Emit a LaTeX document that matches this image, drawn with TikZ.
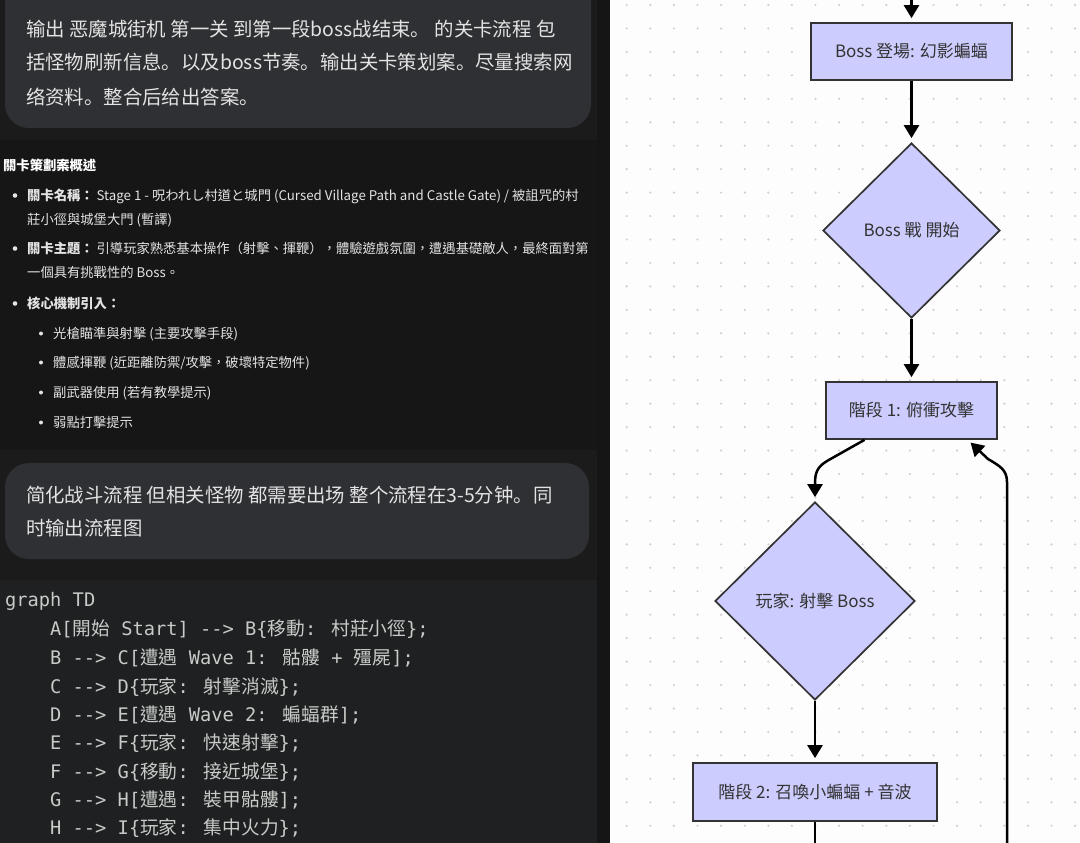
\documentclass[tikz,border=0pt]{standalone}
\usepackage{fontspec}
\usetikzlibrary{shapes.geometric,arrows.meta,calc}
\newfontfamily\scf{Noto Sans CJK SC}
\newfontfamily\tcf{Noto Sans CJK TC}
\newfontfamily\monof{DejaVu Sans Mono}
\definecolor{leftbg}{HTML}{1B1B1C}
\definecolor{midbg}{HTML}{161617}
\definecolor{stripbg}{HTML}{151515}
\definecolor{bubble}{HTML}{2F3033}
\definecolor{codebg}{HTML}{1F2021}
\definecolor{ltxt}{HTML}{E3E3E3}
\definecolor{ctxt}{HTML}{C8CAC8}
\definecolor{rightbg}{HTML}{FDFDFD}
\definecolor{dotc}{HTML}{CFCFCF}
\definecolor{nodefill}{HTML}{CCCCFF}
\definecolor{nodeline}{HTML}{333333}
\tikzset{
  bubtxt/.style={anchor=base west,inner sep=0,text=ltxt,font=\scf\fontsize{19.4}{22}\selectfont},
  mdtxt/.style={anchor=base west,inner sep=0,text=ltxt,font=\tcf\fontsize{13.3}{16}\selectfont},
  buldot/.style={fill=ltxt},
  codetxt/.style={anchor=base west,inner sep=0,text=ctxt,font=\monof\fontsize{18.7}{22}\selectfont},
  fbox/.style={rectangle,draw=nodeline,line width=1.7pt,fill=nodefill,inner sep=0,text=nodeline,font=\tcf\fontsize{17}{20}\selectfont},
  fdia/.style={diamond,draw=nodeline,line width=1.7pt,fill=nodefill,inner sep=0,text=nodeline,font=\tcf\fontsize{17}{20}\selectfont},
  flow/.style={draw=black,line width=2.5pt,-{Triangle[length=13pt,width=15pt]},shorten >=4pt},
  flowline/.style={draw=black,line width=2.5pt}
}
\newcommand\cjk[1]{{\tcf #1}}
\begin{document}
\begin{tikzpicture}[x=1pt,y=-1pt]
\useasboundingbox (0,0) rectangle (1080,843);
% ---------- left panel ----------
\fill[leftbg] (0,0) rectangle (610,843);
\fill[midbg] (0,140) rectangle (597,450);
\fill[stripbg] (597,0) rectangle (610,843);
\fill[bubble,rounded corners=24pt] (5,-40) rectangle (591,128);
\node[bubtxt] (q1a) at (26,37) {输出 恶魔城街机 第一关 到第一段boss战结束。 的关卡流程 包};
\node[bubtxt] (q1b) at (26,70) {括怪物刷新信息。以及boss节奏。输出关卡策划案。尽量搜索网};
\node[bubtxt] (q1c) at (26,104) {络资料。整合后给出答案。};
% outline section
\node[mdtxt,text=white] (h1) at (3,170) {\bfseries 關卡策劃案概述};
\fill[buldot] (15,195.5) circle[radius=2.3pt];
\node[mdtxt] (l1) at (27,200) {{\bfseries 關卡名稱：}\ Stage 1 - 呪われし村道と城門 (Cursed Village Path and Castle Gate) / 被詛咒的村};
\node[mdtxt] (l1b) at (27,224) {莊小徑與城堡大門 (暫譯)};
\fill[buldot] (15,248.5) circle[radius=2.3pt];
\node[mdtxt] (l2) at (27,253) {{\bfseries 關卡主題：}\ 引導玩家熟悉基本操作（射擊、揮鞭），體驗遊戲氛圍，遭遇基礎敵人，最終面對第};
\node[mdtxt] (l2b) at (27,277) {一個具有挑戰性的 Boss。};
\fill[buldot] (15,303.5) circle[radius=2.3pt];
\node[mdtxt] (l3) at (27,308) {\bfseries 核心機制引入：};
\fill[buldot] (41,333.5) circle[radius=2pt];
\node[mdtxt] (s1) at (53,338) {光槍瞄準與射擊 (主要攻擊手段)};
\fill[buldot] (41,362.5) circle[radius=2pt];
\node[mdtxt] (s2) at (53,367) {體感揮鞭 (近距離防禦/攻擊，破壞特定物件)};
\fill[buldot] (41,392.5) circle[radius=2pt];
\node[mdtxt] (s3) at (53,397) {副武器使用 (若有教學提示)};
\fill[buldot] (41,422.5) circle[radius=2pt];
\node[mdtxt] (s4) at (53,427) {弱點打擊提示};
% second bubble
\fill[bubble,rounded corners=24pt] (5,463) rectangle (589,559);
\node[bubtxt] (q2a) at (26,502) {简化战斗流程 但相关怪物 都需要出场 整个流程在3-5分钟。同};
\node[bubtxt] (q2b) at (26,535) {时输出流程图};
% code block
\fill[codebg] (0,580) rectangle (597,843);
\node[codetxt] (c0) at (5,606) {graph TD};
\node[codetxt] (c1) at (50,635) {A[\cjk{開始} Start] -{}-> B\{\cjk{移動}: \cjk{村莊小徑}\};};
\node[codetxt] (c2) at (50,664) {B -{}-> C[\cjk{遭遇} Wave 1: \cjk{骷髏} + \cjk{殭屍}];};
\node[codetxt] (c3) at (50,693) {C -{}-> D\{\cjk{玩家}: \cjk{射擊消滅}\};};
\node[codetxt] (c4) at (50,721) {D -{}-> E[\cjk{遭遇} Wave 2: \cjk{蝙蝠群}];};
\node[codetxt] (c5) at (50,749) {E -{}-> F\{\cjk{玩家}: \cjk{快速射擊}\};};
\node[codetxt] (c6) at (50,778) {F -{}-> G\{\cjk{移動}: \cjk{接近城堡}\};};
\node[codetxt] (c7) at (50,806) {G -{}-> H[\cjk{遭遇}: \cjk{裝甲骷髏}];};
\node[codetxt] (c8) at (50,834) {H -{}-> I\{\cjk{玩家}: \cjk{集中火力}\};};
% ---------- right panel ----------
\fill[rightbg] (610,0) rectangle (1080,843);
\foreach \i in {0,...,19} {
  \foreach \j in {0,...,35} {
    \fill[dotc] (626.7+23.6*\i, 5+23.45*\j) circle[radius=1.2pt];
  }
}
\node[fbox,minimum width=201pt,minimum height=57pt] (n1) at (911.5,51.5) {Boss 登場: 幻影蝙蝠};
\node[fdia,minimum width=177pt,minimum height=175pt] (n2) at (911.5,230.5) {Boss 戰 開始};
\node[fbox,minimum width=171pt,minimum height=57pt] (n3) at (911.5,410.5) {階段 1: 俯衝攻擊};
\node[fdia,minimum width=200pt,minimum height=198pt] (n4) at (815,601) {玩家: 射擊 Boss};
\node[fbox,minimum width=244pt,minimum height=58pt] (n5) at (815,792) {階段 2: 召喚小蝙蝠 + 音波};
\coordinate (top) at (911.5,-6);
\coordinate (bot) at (815,850);
\coordinate (rbot) at (1007,850);
\coordinate (s3) at ($(n3.south west)!0.228!(n3.south east)$);
\coordinate (e3) at ($(n3.south west)!0.825!(n3.south east)$);
\draw[flow] (top) -- (n1.north);
\draw[flow] (n1.south) -- (n2.north);
\draw[flow] (n2.south) -- (n3.north);
\draw[flow] (s3) -- (827,461) .. controls (817,467) and (815,473) .. (815,484) -- (n4.north);
\draw[flow] (n4.south) -- (n5.north);
\draw[flowline] (n5.south) -- (bot);
\draw[flow] (rbot) -- (1007,482) .. controls (1007,470) and (1000,466) .. (988,459) -- (e3);
\end{tikzpicture}
\end{document}
